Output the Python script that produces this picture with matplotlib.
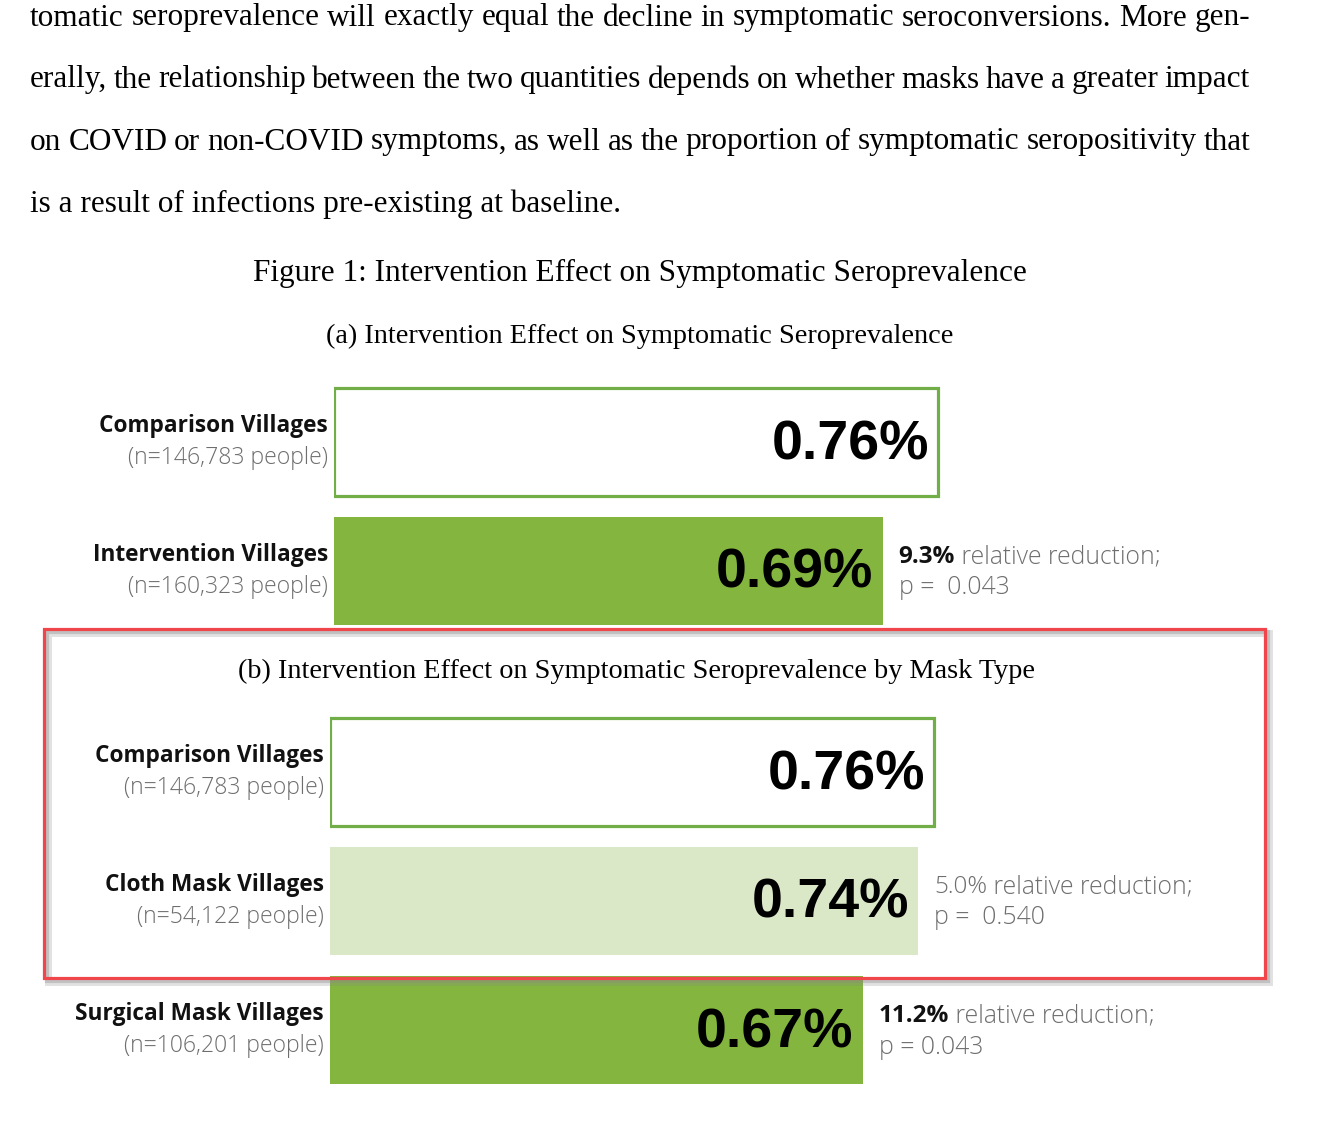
import matplotlib.pyplot as plt
from matplotlib.patches import Rectangle

W, H = 1335, 1139

# ---- text of the page ----
body_lines = [
    "tomatic seroprevalence will exactly equal the decline in symptomatic seroconversions. More gen-",
    "erally, the relationship between the two quantities depends on whether masks have a greater impact",
    "on COVID or non-COVID symptoms, as well as the proportion of symptomatic seropositivity that",
    "is a result of infections pre-existing at baseline.",
]
figure_title = "Figure 1: Intervention Effect on Symptomatic Seroprevalence"
sub_a_title = "(a) Intervention Effect on Symptomatic Seroprevalence"
sub_b_title = "(b) Intervention Effect on Symptomatic Seroprevalence by Mask Type"

# ---- panel (a) data ----
a_groups = ["Comparison Villages", "Intervention Villages"]
a_sizes = ["(n=146,783 people)", "(n=160,323 people)"]
a_values = [0.76, 0.69]
a_reduction = [None, "9.3%"]
a_pvalues = [None, "p =  0.043"]
a_bold_red = [False, True]

# ---- panel (b) data ----
b_groups = ["Comparison Villages", "Cloth Mask Villages", "Surgical Mask Villages"]
b_sizes = ["(n=146,783 people)", "(n=54,122 people)", "(n=106,201 people)"]
b_values = [0.76, 0.74, 0.67]
b_reduction = [None, "5.0%", "11.2%"]
b_pvalues = [None, "p =  0.540", "p = 0.043"]
b_bold_red = [False, False, True]

DARK = "#84B53F"
LIGHT = "#DAE8C7"
EDGE = "#72AE48"
GREY = "#6e6e6e"
a_styles = ["outline", "dark"]
b_styles = ["outline", "light", "dark"]

SERIF = "Liberation Serif"
SANS = "Open Sans"
NUM = "Liberation Sans"

fig = plt.figure(figsize=(W / 100, H / 100), dpi=100)
renderer = fig.canvas.get_renderer()


def fy(y):
    return 1 - y / H


def justified_line(y, text, x0=30, x1=1250, justify=True, size=22.5):
    if not justify:
        fig.text(x0 / W, fy(y), text, family=SERIF, fontsize=size, va="center")
        return
    words = text.split(" ")
    arts = [fig.text(0, fy(y), w, family=SERIF, fontsize=size, va="center") for w in words]
    widths = [a.get_window_extent(renderer).width for a in arts]
    gap = (x1 - x0 - sum(widths)) / (len(words) - 1)
    x = x0
    for a, w in zip(arts, widths):
        a.set_x(x / W)
        x += w + gap


for k, line in enumerate(body_lines):
    justified_line(18 + 62 * k, line, justify=(k < len(body_lines) - 1))

fig.text(640 / W, fy(273), figure_title, family=SERIF, fontsize=22.5, ha="center", va="center")
fig.text(640 / W, fy(336), sub_a_title, family=SERIF, fontsize=20.3, ha="center", va="center")
fig.text(636 / W, fy(671), sub_b_title, family=SERIF, fontsize=20.3, ha="center", va="center")

PX_PER_UNIT = 795  # pixels per percentage point
ROW = 129


def make_panel(left, top, nrows):
    height = nrows * ROW
    ax = fig.add_axes([left / W, fy(top + height), (W - left) / W, height / H])
    ax.set_xlim(0, (W - left) / PX_PER_UNIT)
    ax.set_ylim(nrows - 0.5, -0.5)
    ax.axis("off")
    return ax


def draw_panel(ax, groups, sizes, values, reduction, pvalues, bold_red, styles):
    for i, (g, n, v, style) in enumerate(zip(groups, sizes, values, styles)):
        if style == "outline":
            ax.barh(i, v, height=0.835, color="white", edgecolor=EDGE, linewidth=2.3)
        else:
            ax.barh(i, v, height=0.835, color=DARK if style == "dark" else LIGHT)
        ax.annotate(f"{v:.2f}%", xy=(v, i), xytext=(-9, -3), textcoords="offset pixels",
                    ha="right", va="center", family=NUM, weight="bold", fontsize=40)
        ax.annotate(g, xy=(0, i), xytext=(-6, 16), textcoords="offset pixels",
                    ha="right", va="center", family=SANS, weight="bold", fontsize=16.3,
                    color="#111111")
        ax.annotate(n, xy=(0, i), xytext=(-6, -16), textcoords="offset pixels",
                    ha="right", va="center", family=SANS, weight="light", fontsize=16.6,
                    color=GREY)
        if reduction[i] is None:
            continue
        first = ax.annotate(reduction[i], xy=(v, i), xytext=(16, 14), textcoords="offset pixels",
                            ha="left", va="center", family=SANS, fontsize=17.5,
                            weight="bold" if bold_red[i] else "light",
                            color="#111111" if bold_red[i] else GREY)
        ax.annotate(" relative reduction;", xy=(1, 0.5), xycoords=first,
                    ha="left", va="center", family=SANS, weight="light", fontsize=17.8,
                    color=GREY)
        ax.annotate(pvalues[i], xy=(v, i), xytext=(16, -17), textcoords="offset pixels",
                    ha="left", va="center", family=SANS, weight="light", fontsize=17.8,
                    color=GREY)


ax_a = make_panel(334, 442 - ROW / 2, len(a_values))
draw_panel(ax_a, a_groups, a_sizes, a_values, a_reduction, a_pvalues, a_bold_red, a_styles)

ax_b = make_panel(330, 772 - ROW / 2, len(b_values))
draw_panel(ax_b, b_groups, b_sizes, b_values, b_reduction, b_pvalues, b_bold_red, b_styles)

# highlight box around panel (b) with a soft drop shadow
for off, lw, alpha in [(4, 5, 0.25), (3, 3, 0.35)]:
    fig.add_artist(Rectangle(((44 + off) / W, fy(978 + off)), (1265 - 44) / W, (978 - 629) / H,
                             transform=fig.transFigure, fill=False, edgecolor="#888888",
                             linewidth=lw, alpha=alpha, zorder=4))
fig.add_artist(Rectangle((44 / W, fy(978)), (1265 - 44) / W, (978 - 629) / H,
                         transform=fig.transFigure, fill=False, edgecolor="#F0454A",
                         linewidth=2.3, zorder=5))

fig.savefig("out.png", dpi=100, facecolor="white")
